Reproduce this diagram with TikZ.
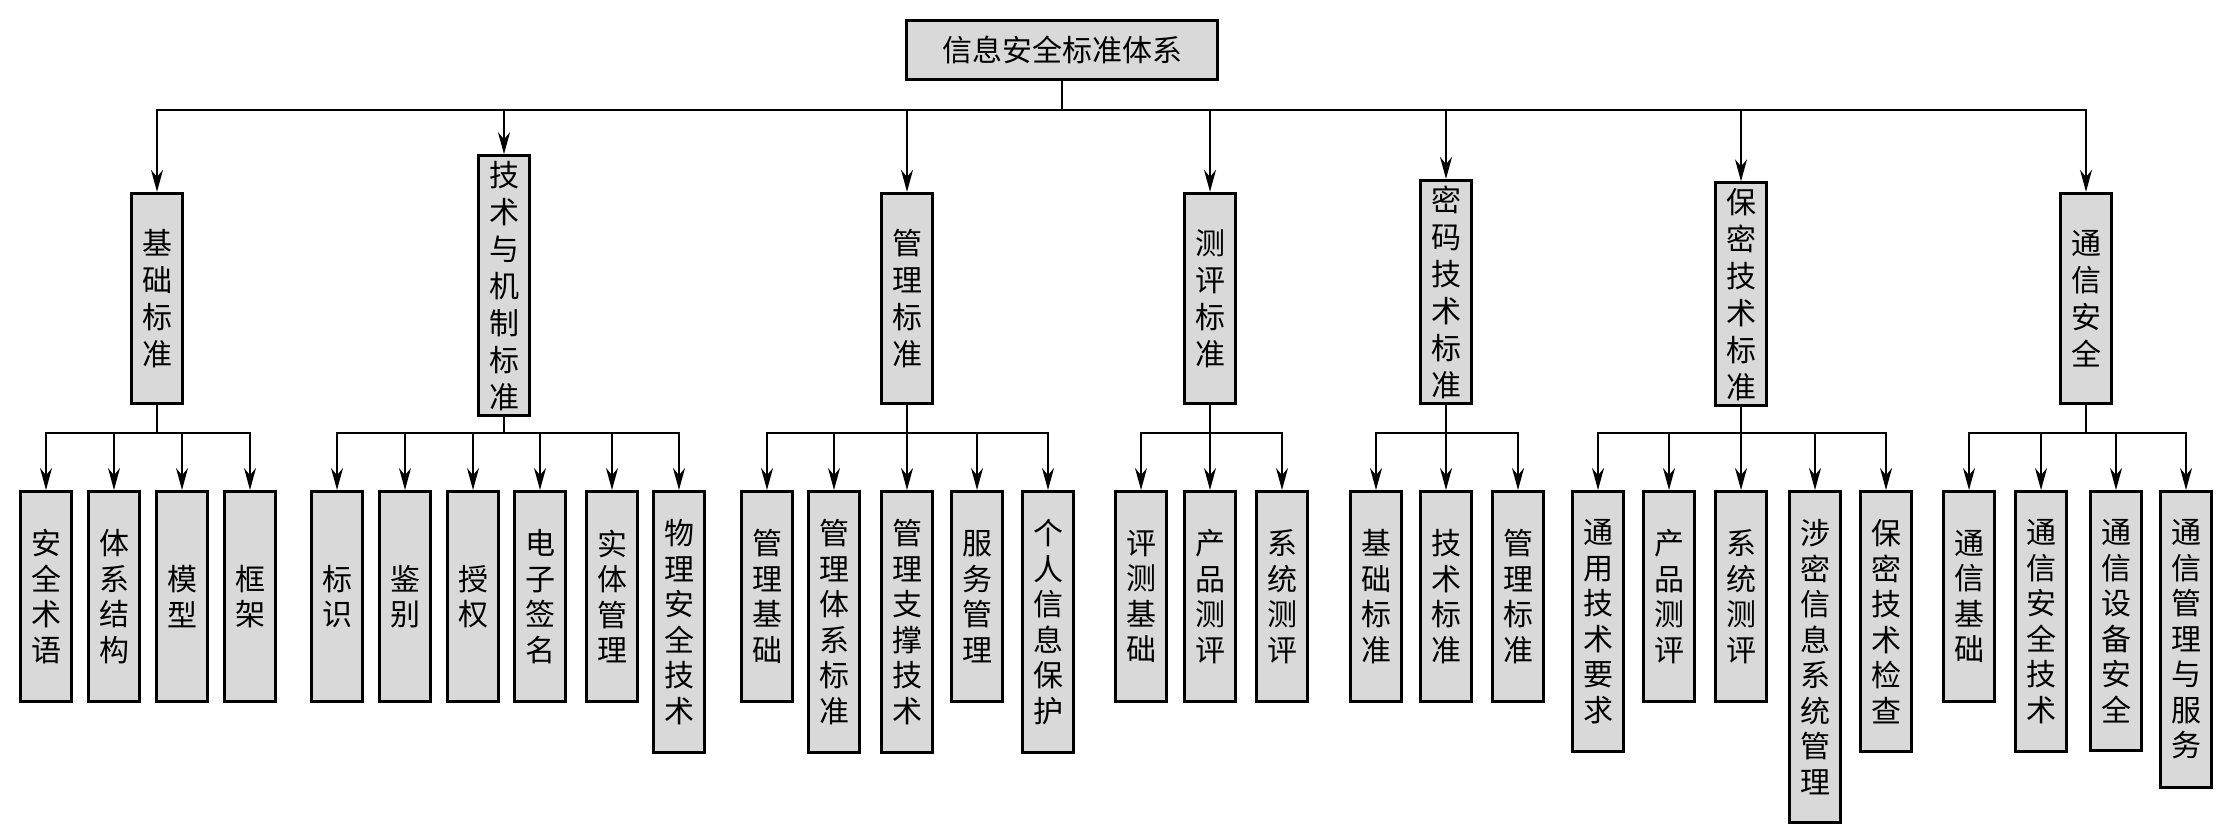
\documentclass[tikz,border=0pt]{standalone}
\usepackage{fontspec}
\setmainfont{Noto Sans CJK SC}
\usetikzlibrary{arrows.meta}

\begin{document}
\begin{tikzpicture}[x=1pt,y=-1pt,
  box/.style={draw, line width=3.2pt, fill=black!15, rectangle, align=center, minimum width=51pt, inner xsep=2pt},
  rootbox/.style={box, minimum width=311pt, minimum height=59pt, font=\fontsize{30}{36}\selectfont},
  catbox/.style={box, anchor=south, inner ysep=5pt, minimum height=210pt, font=\fontsize{30}{37}\selectfont},
  itembox/.style={box, anchor=north, inner ysep=28pt, minimum height=210pt, font=\fontsize{30}{35.5}\selectfont},
  link/.style={line width=1.8pt, -{Stealth[length=22pt,width=12pt]}}]
\useasboundingbox (0,0) rectangle (2237,839);
\coordinate (topbus) at (0,110);
\coordinate (subbus) at (0,433);

\node[rootbox] (root) at (1062,50) {信息安全标准体系};

\node[catbox] (jichu) at (157,405) {基\\础\\标\\准};
\node[catbox] (jishu) at (504,417) {技\\术\\与\\机\\制\\标\\准};
\node[catbox] (guanli) at (907,405) {管\\理\\标\\准};
\node[catbox] (ceping) at (1210,405) {测\\评\\标\\准};
\node[catbox] (mima) at (1446,405) {密\\码\\技\\术\\标\\准};
\node[catbox] (baomi) at (1741,407) {保\\密\\技\\术\\标\\准};
\node[catbox] (tongxin) at (2086,405) {通\\信\\安\\全};

\draw[link] (root.south) -- (root.south |- topbus) -| (jichu.north);
\draw[link] (root.south) -- (root.south |- topbus) -| (jishu.north);
\draw[link] (root.south) -- (root.south |- topbus) -| (guanli.north);
\draw[link] (root.south) -- (root.south |- topbus) -| (ceping.north);
\draw[link] (root.south) -- (root.south |- topbus) -| (mima.north);
\draw[link] (root.south) -- (root.south |- topbus) -| (baomi.north);
\draw[link] (root.south) -- (root.south |- topbus) -| (tongxin.north);

\node[itembox] (jichu1) at (46,490) {安\\全\\术\\语};
\node[itembox] (jichu2) at (114,490) {体\\系\\结\\构};
\node[itembox] (jichu3) at (182,490) {模\\型};
\node[itembox] (jichu4) at (250,490) {框\\架};

\node[itembox] (jishu1) at (337,490) {标\\识};
\node[itembox] (jishu2) at (405,490) {鉴\\别};
\node[itembox] (jishu3) at (473,490) {授\\权};
\node[itembox] (jishu4) at (540,490) {电\\子\\签\\名};
\node[itembox] (jishu5) at (612,490) {实\\体\\管\\理};
\node[itembox] (jishu6) at (679,490) {物\\理\\安\\全\\技\\术};

\node[itembox] (guanli1) at (767,490) {管\\理\\基\\础};
\node[itembox] (guanli2) at (834,490) {管\\理\\体\\系\\标\\准};
\node[itembox] (guanli3) at (907,490) {管\\理\\支\\撑\\技\\术};
\node[itembox] (guanli4) at (977,490) {服\\务\\管\\理};
\node[itembox] (guanli5) at (1048,490) {个\\人\\信\\息\\保\\护};

\node[itembox] (ceping1) at (1141,490) {评\\测\\基\\础};
\node[itembox] (ceping2) at (1210,490) {产\\品\\测\\评};
\node[itembox] (ceping3) at (1282,490) {系\\统\\测\\评};

\node[itembox] (mima1) at (1376,490) {基\\础\\标\\准};
\node[itembox] (mima2) at (1446,490) {技\\术\\标\\准};
\node[itembox] (mima3) at (1518,490) {管\\理\\标\\准};

\node[itembox] (baomi1) at (1598,490) {通\\用\\技\\术\\要\\求};
\node[itembox] (baomi2) at (1669,490) {产\\品\\测\\评};
\node[itembox] (baomi3) at (1741,490) {系\\统\\测\\评};
\node[itembox] (baomi4) at (1815,490) {涉\\密\\信\\息\\系\\统\\管\\理};
\node[itembox] (baomi5) at (1886,490) {保\\密\\技\\术\\检\\查};

\node[itembox] (tongxin1) at (1969,490) {通\\信\\基\\础};
\node[itembox] (tongxin2) at (2041,490) {通\\信\\安\\全\\技\\术};
\node[itembox] (tongxin3) at (2116,490) {通\\信\\设\\备\\安\\全};
\node[itembox] (tongxin4) at (2186,490) {通\\信\\管\\理\\与\\服\\务};

\draw[link] (jichu.south) -- (jichu.south |- subbus) -| (jichu1.north);
\draw[link] (jichu.south) -- (jichu.south |- subbus) -| (jichu2.north);
\draw[link] (jichu.south) -- (jichu.south |- subbus) -| (jichu3.north);
\draw[link] (jichu.south) -- (jichu.south |- subbus) -| (jichu4.north);

\draw[link] (jishu.south) -- (jishu.south |- subbus) -| (jishu1.north);
\draw[link] (jishu.south) -- (jishu.south |- subbus) -| (jishu2.north);
\draw[link] (jishu.south) -- (jishu.south |- subbus) -| (jishu3.north);
\draw[link] (jishu.south) -- (jishu.south |- subbus) -| (jishu4.north);
\draw[link] (jishu.south) -- (jishu.south |- subbus) -| (jishu5.north);
\draw[link] (jishu.south) -- (jishu.south |- subbus) -| (jishu6.north);

\draw[link] (guanli.south) -- (guanli.south |- subbus) -| (guanli1.north);
\draw[link] (guanli.south) -- (guanli.south |- subbus) -| (guanli2.north);
\draw[link] (guanli.south) -- (guanli.south |- subbus) -| (guanli3.north);
\draw[link] (guanli.south) -- (guanli.south |- subbus) -| (guanli4.north);
\draw[link] (guanli.south) -- (guanli.south |- subbus) -| (guanli5.north);

\draw[link] (ceping.south) -- (ceping.south |- subbus) -| (ceping1.north);
\draw[link] (ceping.south) -- (ceping.south |- subbus) -| (ceping2.north);
\draw[link] (ceping.south) -- (ceping.south |- subbus) -| (ceping3.north);

\draw[link] (mima.south) -- (mima.south |- subbus) -| (mima1.north);
\draw[link] (mima.south) -- (mima.south |- subbus) -| (mima2.north);
\draw[link] (mima.south) -- (mima.south |- subbus) -| (mima3.north);

\draw[link] (baomi.south) -- (baomi.south |- subbus) -| (baomi1.north);
\draw[link] (baomi.south) -- (baomi.south |- subbus) -| (baomi2.north);
\draw[link] (baomi.south) -- (baomi.south |- subbus) -| (baomi3.north);
\draw[link] (baomi.south) -- (baomi.south |- subbus) -| (baomi4.north);
\draw[link] (baomi.south) -- (baomi.south |- subbus) -| (baomi5.north);

\draw[link] (tongxin.south) -- (tongxin.south |- subbus) -| (tongxin1.north);
\draw[link] (tongxin.south) -- (tongxin.south |- subbus) -| (tongxin2.north);
\draw[link] (tongxin.south) -- (tongxin.south |- subbus) -| (tongxin3.north);
\draw[link] (tongxin.south) -- (tongxin.south |- subbus) -| (tongxin4.north);
\end{tikzpicture}
\end{document}
